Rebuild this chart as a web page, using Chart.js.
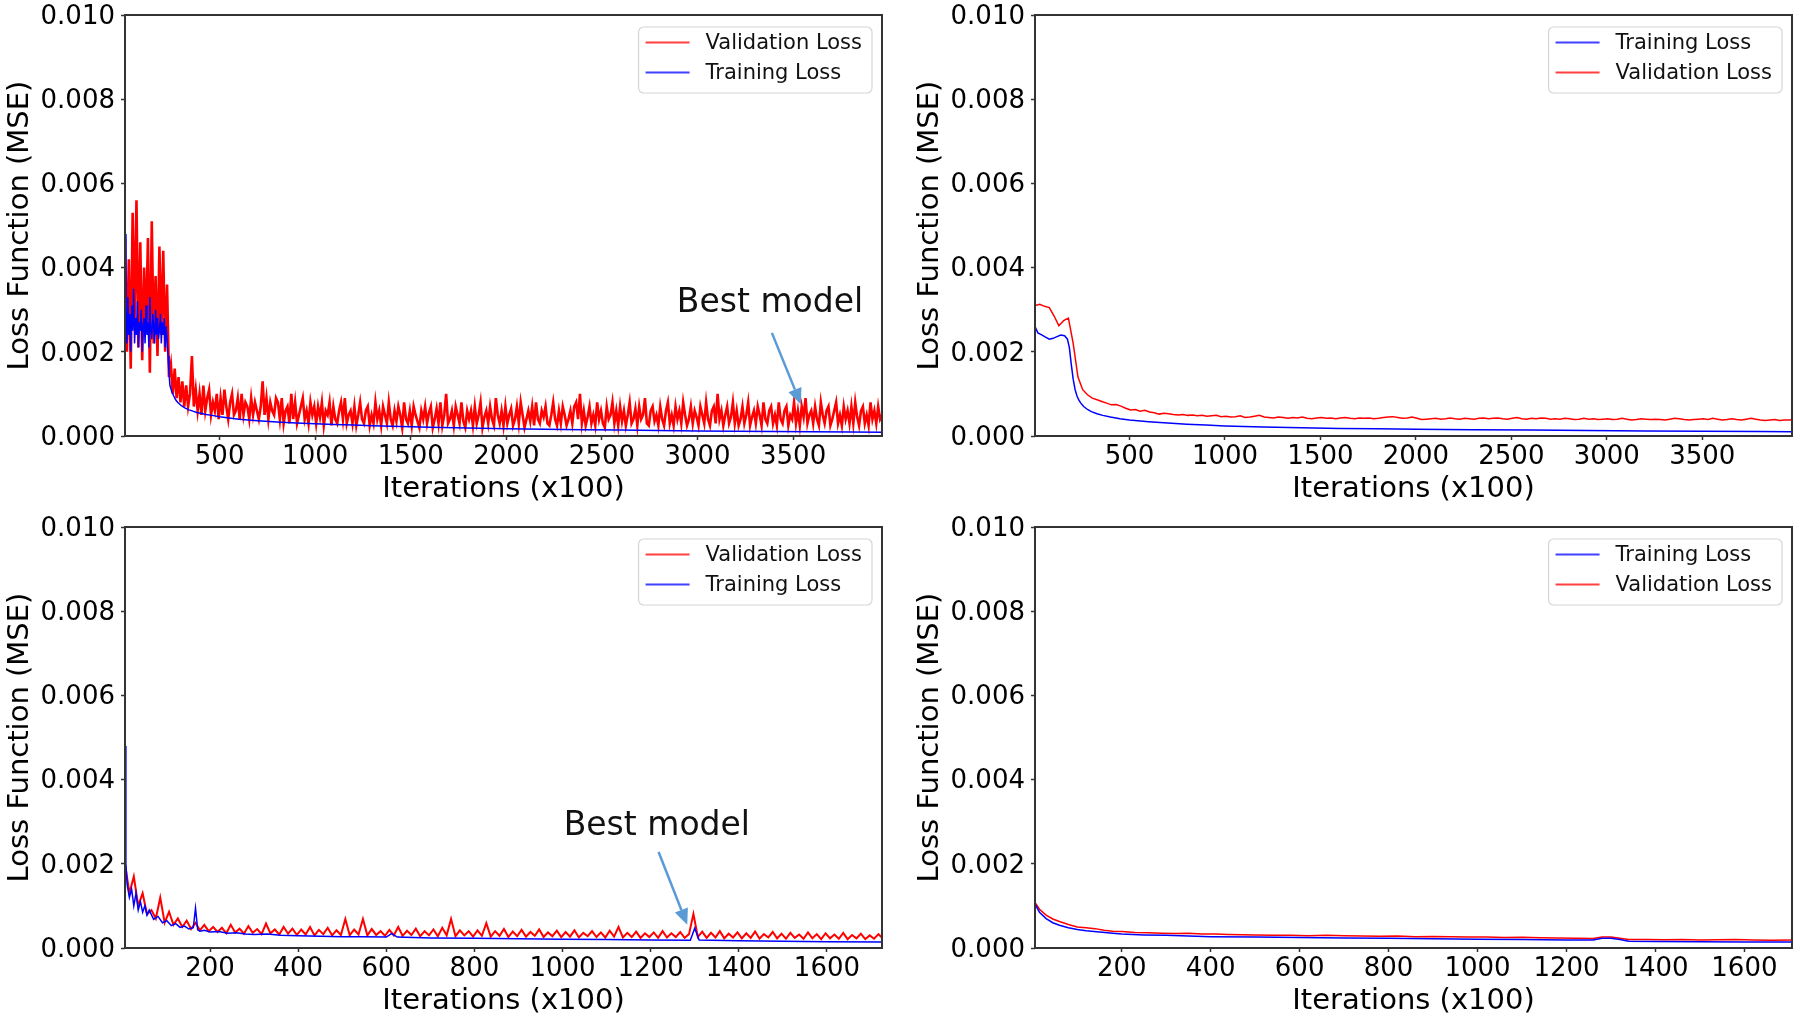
<!DOCTYPE html>
<html>
<head>
<meta charset="utf-8">
<script src="https://cdn.jsdelivr.net/npm/chart.js@4.4.1/dist/chart.umd.min.js"></script>
<style>
  html, body { margin: 0; padding: 0; background: #fff; overflow: hidden; width: 1800px; height: 1019px; }
  canvas { position: absolute; }
</style>
</head>
<body>
<canvas id="tl" width="900" height="510" style="left:0;top:0"></canvas>
<canvas id="tr" width="900" height="510" style="left:900px;top:0"></canvas>
<canvas id="bl" width="900" height="510" style="left:0;top:512px"></canvas>
<canvas id="br" width="900" height="510" style="left:900px;top:512px"></canvas>
<script>
// all loss values are MSE x 1e-4 (so 100 = 0.010)
const yTicks = [0, 20, 40, 60, 80, 100];
const yTickLabels = ['0.000', '0.002', '0.004', '0.006', '0.008', '0.010'];
const xTicksLong = [500, 1000, 1500, 2000, 2500, 3000, 3500];
const xTicksShort = [200, 400, 600, 800, 1000, 1200, 1400, 1600];

// top left: validation every 10 iterations starting at 5
const tlValStart = 5, tlValStep = 10;
const tlValidation = [
  47,20,42,16,53,27,56,21,46,18,40,25,47,15,51,22,38,19,45,24,
  44,20,36,14,17,10,16,9,14,8,13,7,12,7,10,19,7,11,6,10,
  5,12,6,9,11,5,8,6,10,4,9,5,11,7,4,8,10,5,6,9,
  4,10,5,8,7,4,9,5,8,6,4,7,13,5,9,4,8,6,5,9,
  8,4,9,3,6,7,3,10,4,8,3,5,7,9,4,6,3,8,5,7,
  3,7,4.5,8,2.5,6,5,8,2.5,7,4,3,6,8,4,9,3,5,6,3,
  7,2.5,5,8,4,3,6,7,2.5,5,3,8,4,6,2.5,7,5,3,8,4,
  2.5,6,3.5,7,5,2,8,4,3,6,2.5,7,5,3.5,2,6,4,7,3,5.5,
  7,2,4,6.5,3,8,2.5,5,10,3,4,6,2.5,7,5,3,8,3.5,2,6,
  4,6,2.5,7,3,5,8,2,4.5,6,3,7,4,2.5,9,5,3,6,2.5,7,
  3,5,6.5,2.5,4,7,3,8,5,2,4,6,3.5,7,2.5,8,4,3,6,4.5,
  7,3,2.5,5,8,4,2.5,6,3,7,5,2.5,4,6,3,7,8,4,10,3,
  6,2.5,4.5,7,3,5,2.5,8,4,6,3,2,7,4,5,8,3,6,2.5,7,
  3.5,6,2.5,5,8,3,4,6.5,2.5,7,4,5,9,3,2.5,6,7,3.5,5,2.5,
  7,4,2.5,6,8,3,5,2.5,7,4,6,3,8,5,2.5,4,7,3,6,4.5,
  2.5,7,5,3,8,4,2.5,6,7,3,10,4,6,2.5,5,7,3,4.5,8,3,
  6,2.5,4,7,3,5,8,2.5,4.5,6,3,7,5,2.5,8,4,3,6,7,3,
  5,2.5,8,4,3,6,7,2.5,5,4,8,3,6,2.5,7,4.5,9,3,5,6,
  3,7,4,2.5,8,5,3,6,7,2.5,4,6,8,3,5,2.5,7,4,6,3,
  7,3,8,4.5,2.5,6,7,3,5,2.5,8,4,6,3,7,4,5,2.5,7,4
];
const tlTrainX = [
  5,10,15,20,25,30,35,40,45,50,55,60,65,70,75,80,85,90,95,100,
  105,110,115,120,125,130,135,140,145,150,155,160,165,170,175,180,185,190,195,200,
  205,210,215,220,225,230,235,240,
  250,260,270,280,290,300,320,340,360,380,400,430,460,500,550,600,650,700,800,900,
  1000,1100,1200,1300,1400,1500,1600,1800,2000,2200,2400,2600,2800,3000,3200,3400,3600,3800,3965
];
const tlTraining = [
  48,30,22,33,24,29,20,31,25,35,22,28,24,32,21,27,25,30,20,26,
  28,22,31,24,27,21,33,25,23,29,26,22,30,24,28,23,25,29,22,27,
  24,28,21,26,23,19,15,12,
  10.5,9.5,8.6,8.0,7.6,7.2,6.6,6.2,5.9,5.6,5.4,5.1,4.9,4.6,4.3,4.0,3.8,3.6,3.3,3.1,
  2.9,2.75,2.6,2.45,2.3,2.2,2.1,1.9,1.75,1.6,1.5,1.4,1.3,1.2,1.15,1.05,1.0,0.95,0.9
];

// top right
const trTrainX = [5,20,40,60,80,100,120,140,160,175,185,195,205,215,225,235,245,260,280,300,
  330,360,400,450,500,600,700,800,900,1000,1200,1400,1600,1800,2000,2300,2600,2900,3200,3500,3800,3970];
const trTraining = [26,24.5,24,23.5,23,23.2,23.6,24,23.8,23,21,17,13.5,11,9.5,8.5,7.8,7,6.3,5.8,
  5.3,4.9,4.5,4.1,3.8,3.4,3.1,2.8,2.6,2.4,2.15,1.95,1.8,1.7,1.6,1.5,1.4,1.3,1.2,1.1,1.05,1.0];
const trValStart = 5, trValStep = 25;
const trValidation = [
  31,31.3,30.8,30.5,28.5,26.2,27.4,28,22,14,
  11,9.8,9.0,8.6,8.2,7.8,7.4,7.5,7.1,6.6,
  6.2,6.3,5.9,6.1,5.7,5.5,5.2,5.4,5.3,5.1,
  5.0,5.1,4.9,5.0,4.8,4.9,4.7,4.8,4.9,4.6,
  4.7,4.5,4.6,4.8,4.4,4.5,4.7,4.9,4.5,4.4,
  4.3,4.5,4.4,4.2,4.4,4.3,4.5,4.2,4.1,4.3,
  4.4,4.2,4.3,4.1,4.3,4.4,4.2,4.1,4.3,4.2,
  4.3,4.1,4.2,4.4,4.5,4.6,4.4,4.2,4.3,4.5,
  4.2,3.9,4.0,4.1,4.2,4.0,4.1,4.3,4.1,4.0,
  4.2,4.1,4.0,4.2,4.3,4.1,4.2,4.3,4.1,4.0,
  4.2,4.4,4.1,4.0,4.2,4.1,4.3,4.2,4.0,4.1,
  4.0,4.2,4.1,3.9,4.0,4.2,4.0,4.1,3.9,4.0,
  4.1,3.9,4.0,4.2,4.0,3.8,3.9,4.1,4.0,3.9,
  4.0,3.9,3.8,4.0,4.2,4.1,3.9,3.8,3.9,4.0,
  4.1,3.9,4.2,4.0,3.8,3.9,4.1,3.9,3.8,4.0,
  4.2,4.0,3.8,3.7,3.8,3.9,3.7,3.8,3.8,3.9
];

// bottom left
const blValStart = 7, blValStep = 10;
const blValidation = [
  20,13,17,10,13,8,9,7,12,6,8.6,5.5,7,5,6.5,4.5,6,4.2,5.5,4,
  5,3.8,4.8,3.5,5.5,3.7,4.6,3.4,5.2,3.6,4.5,3.3,5.8,3.5,4.4,3.2,5.0,3.4,4.6,3.1,
  4.4,3.2,5.0,3.0,4.3,3.3,4.8,3.0,4.2,3.1,6.9,3.0,4.4,3.2,6.9,3.0,4.5,3.1,4.0,2.9,
  4.3,3.0,5.0,2.9,4.1,3.1,4.6,2.8,4.0,3.0,4.4,2.8,4.8,3.0,6.9,2.8,4.2,3.0,4.0,2.7,
  4.2,2.9,5.9,2.7,4.0,2.9,4.5,2.6,3.9,2.8,4.3,2.7,3.8,2.9,4.4,2.6,3.7,2.8,4.1,2.6,
  3.8,2.7,4.2,2.5,3.6,2.8,4.0,2.6,3.7,2.5,4.1,2.7,5.0,2.5,3.6,2.6,3.9,2.4,3.5,2.6,
  3.7,2.4,4.0,2.5,3.5,2.6,3.8,2.4,3.3,8.1,2.6,3.9,2.4,3.6,2.5,4.0,2.3,3.4,2.5,3.7,
  2.3,3.5,2.4,3.9,2.2,3.3,2.5,3.8,2.3,3.4,2.2,3.6,2.4,3.2,2.2,3.7,2.3,3.3,2.1,3.5,
  2.3,3.2,2.2,3.6,2.1,3.1,2.3,3.4,2.1,3.0,2.2,3.3,2.2
];
const blTrainX = [7,9,12,17,22,27,32,37,42,47,52,57,62,72,82,92,102,112,122,132,
  142,152,162,167,172,177,187,200,220,240,260,280,300,330,360,400,450,500,550,600,
  612,625,700,800,900,1000,1100,1200,1290,1300,1310,1400,1500,1600,1727];
const blTraining = [48,20,15,12,14,10,13,9,11,8.5,10,7.8,9,6.8,7.5,6,6.5,5.3,5.8,4.9,
  5.2,4.5,4.8,9.5,4.3,4.0,4.2,3.8,3.9,3.5,3.6,3.3,3.2,3.3,3.0,2.9,2.8,2.7,2.65,2.6,
  3.4,2.6,2.4,2.3,2.2,2.1,2.0,1.9,1.85,4.7,1.9,1.7,1.6,1.5,1.4];

// bottom right
const brTrainX = [5,15,30,45,60,80,100,120,150,180,200,250,300,350,400,500,600,700,800,900,
  1000,1100,1200,1260,1280,1300,1320,1340,1400,1500,1600,1707];
const brTraining = [10.5,8.5,7.0,6.0,5.4,4.8,4.4,4.1,3.8,3.5,3.3,3.1,3.0,2.85,2.7,2.6,2.5,2.4,2.3,2.2,
  2.1,2.0,1.9,1.9,2.3,2.3,2.0,1.6,1.55,1.5,1.45,1.4];
const brValX = [5,15,30,45,60,80,100,120,140,160,180,200,230,260,290,320,350,380,410,440,
  470,500,540,580,620,660,700,740,780,820,860,900,940,980,1020,1060,1100,1140,1180,1220,
  1260,1280,1300,1320,1340,1380,1420,1460,1500,1540,1580,1620,1660,1707];
const brValidation = [10.8,9.2,7.8,6.9,6.3,5.6,5.0,4.8,4.6,4.2,4.0,3.9,3.7,3.6,3.5,3.45,3.5,3.3,3.3,3.2,
  3.15,3.1,3.0,3.05,2.9,3.0,2.9,2.85,2.8,2.85,2.7,2.75,2.65,2.6,2.6,2.5,2.55,2.45,2.4,2.3,
  2.25,2.6,2.6,2.3,2.0,2.0,1.95,2.0,1.9,1.95,2.0,1.9,1.85,1.9];

const RED = '#ff0000';
const BLUE = '#0000ff';
const FONT = "'DejaVu Sans', sans-serif";

Chart.defaults.font.family = FONT;
Chart.defaults.color = '#000';

function pairs(xs, ys) {
  return ys.map((y, i) => ({ x: xs[i], y: y }));
}
function stepped(start, step, ys) {
  return ys.map((y, i) => ({ x: start + step * i, y: y }));
}

const framePlugin = {
  id: 'frame',
  afterDatasetsDraw(chart) {
    const a = chart.chartArea, ctx = chart.ctx;
    ctx.save();
    ctx.strokeStyle = '#333';
    ctx.lineWidth = 2;
    ctx.strokeRect(a.left, a.top, a.right - a.left, a.bottom - a.top);
    ctx.restore();
  }
};

const boxLegendPlugin = {
  id: 'boxLegend',
  afterDraw(chart, args, opts) {
    const ctx = chart.ctx, a = chart.chartArea;
    const items = opts.order.map(lbl => chart.data.datasets.find(d => d.label === lbl));
    ctx.save();
    ctx.font = '21px ' + FONT;
    const tw = Math.max(...items.map(d => ctx.measureText(d.label).width));
    const w = 67 + tw + 10, h = 66;
    const x0 = a.right - 10 - w, y0 = a.top + 12;
    ctx.beginPath();
    ctx.roundRect(x0, y0, w, h, 5);
    ctx.fillStyle = 'rgba(255,255,255,0.85)';
    ctx.fill();
    ctx.strokeStyle = '#d6d6d6';
    ctx.lineWidth = 1.2;
    ctx.stroke();
    items.forEach((d, i) => {
      const yy = y0 + 15.5 + i * 30;
      ctx.strokeStyle = d.borderColor;
      ctx.globalAlpha = 0.75;
      ctx.lineWidth = 2;
      ctx.beginPath();
      ctx.moveTo(x0 + 7, yy);
      ctx.lineTo(x0 + 51, yy);
      ctx.stroke();
      ctx.globalAlpha = 1;
      ctx.fillStyle = '#111';
      ctx.textBaseline = 'middle';
      ctx.textAlign = 'left';
      ctx.fillText(d.label, x0 + 67, yy + 1);
    });
    ctx.restore();
  }
};

const bestModelPlugin = {
  id: 'bestModel',
  afterDatasetsDraw(chart, args, opts) {
    if (!opts || opts.textX === undefined) return;
    const ctx = chart.ctx, xs = chart.scales.x, ys = chart.scales.y;
    const tx = xs.getPixelForValue(opts.textX), ty = ys.getPixelForValue(opts.textY);
    const sx = xs.getPixelForValue(opts.fromX), sy = ys.getPixelForValue(opts.fromY);
    const hx = xs.getPixelForValue(opts.toX), hy = ys.getPixelForValue(opts.toY);
    ctx.save();
    ctx.font = '33px ' + FONT;
    ctx.fillStyle = '#111';
    ctx.textAlign = 'center';
    ctx.textBaseline = 'middle';
    ctx.fillText(opts.text, tx, ty);
    const ang = Math.atan2(hy - sy, hx - sx);
    const headLen = 16, headW = 7;
    const bx = hx - headLen * Math.cos(ang), by = hy - headLen * Math.sin(ang);
    ctx.strokeStyle = '#5b9bd5';
    ctx.fillStyle = '#5b9bd5';
    ctx.lineWidth = 2.5;
    ctx.beginPath();
    ctx.moveTo(sx, sy);
    ctx.lineTo(bx, by);
    ctx.stroke();
    ctx.beginPath();
    ctx.moveTo(hx, hy);
    ctx.lineTo(bx + headW * Math.sin(ang), by - headW * Math.cos(ang));
    ctx.lineTo(bx - headW * Math.sin(ang), by + headW * Math.cos(ang));
    ctx.closePath();
    ctx.fill();
    ctx.restore();
  }
};

function panel(id, o) {
  const tickGrid = { drawOnChartArea: false, drawTicks: true, tickLength: 4, tickWidth: 1.5, tickColor: '#333' };
  new Chart(document.getElementById(id), {
    type: 'line',
    data: { datasets: o.datasets },
    options: {
      responsive: false,
      animation: false,
      events: [],
      layout: { padding: { left: 0, right: o.padRight, top: 15, bottom: 0 } },
      elements: { point: { radius: 0 }, line: { borderWidth: 1.5, tension: 0 } },
      plugins: {
        legend: { display: false },
        tooltip: { enabled: false },
        boxLegend: { order: o.legendOrder },
        bestModel: o.best || false
      },
      scales: {
        x: {
          type: 'linear',
          min: o.xMin,
          max: o.xMax,
          afterBuildTicks: s => { s.ticks = o.xTicks.map(v => ({ value: v })); },
          afterFit: s => { s.height = 74; s.paddingLeft = 0; s.paddingRight = 0; },
          ticks: { font: { size: 26, lineHeight: 1 }, color: '#000', padding: 4, maxRotation: 0, autoSkip: false, callback: v => String(v) },
          grid: tickGrid,
          border: { display: false },
          title: { display: true, text: 'Iterations (x100)', font: { size: 29 }, color: '#000', padding: { top: 0, bottom: 3 } }
        },
        y: {
          type: 'linear',
          min: 0,
          max: 100,
          afterBuildTicks: s => { s.ticks = yTicks.map(v => ({ value: v })); },
          // keep the plot box fixed: no extra room for the end labels
          afterFit: s => { s.width = o.yWidth; s.paddingTop = 0; s.paddingBottom = 0; },
          ticks: { font: { size: 26, lineHeight: 1 }, color: '#000', padding: 6, labelOffset: 2, callback: v => yTickLabels[yTicks.indexOf(v)] },
          grid: tickGrid,
          border: { display: false },
          title: { display: true, text: 'Loss Function (MSE)', font: { size: 29 }, color: '#000', padding: { top: o.yTitlePad, bottom: 0 } }
        }
      }
    },
    plugins: [framePlugin, boxLegendPlugin, bestModelPlugin]
  });
}

panel('tl', {
  xMin: 5, xMax: 3965, xTicks: xTicksLong, yWidth: 125, padRight: 18, yTitlePad: 2.6,
  legendOrder: ['Validation Loss', 'Training Loss'],
  best: { text: 'Best model', textX: 3379, textY: 31.4, fromX: 3389, fromY: 24.5, toX: 3541, toY: 7.5 },
  datasets: [
    { label: 'Training Loss', data: pairs(tlTrainX, tlTraining), borderColor: BLUE },
    { label: 'Validation Loss', data: stepped(tlValStart, tlValStep, tlValidation), borderColor: RED, borderWidth: 2.6 }
  ]
});

panel('tr', {
  xMin: 5, xMax: 3970, xTicks: xTicksLong, yWidth: 135, padRight: 8, yTitlePad: 13,
  legendOrder: ['Training Loss', 'Validation Loss'],
  datasets: [
    { label: 'Training Loss', data: pairs(trTrainX, trTraining), borderColor: BLUE },
    { label: 'Validation Loss', data: stepped(trValStart, trValStep, trValidation), borderColor: RED }
  ]
});

panel('bl', {
  xMin: 7, xMax: 1725, xTicks: xTicksShort, yWidth: 125, padRight: 18, yTitlePad: 2.6,
  legendOrder: ['Validation Loss', 'Training Loss'],
  best: { text: 'Best model', textX: 1214, textY: 28.8, fromX: 1218, fromY: 22.8, toX: 1283, toY: 5.5 },
  datasets: [
    { label: 'Training Loss', data: pairs(blTrainX, blTraining), borderColor: BLUE },
    { label: 'Validation Loss', data: stepped(blValStart, blValStep, blValidation), borderColor: RED, borderWidth: 2 }
  ]
});

panel('br', {
  xMin: 5, xMax: 1707, xTicks: xTicksShort, yWidth: 135, padRight: 8, yTitlePad: 13,
  legendOrder: ['Training Loss', 'Validation Loss'],
  datasets: [
    { label: 'Training Loss', data: pairs(brTrainX, brTraining), borderColor: BLUE },
    { label: 'Validation Loss', data: pairs(brValX, brValidation), borderColor: RED }
  ]
});
</script>
</body>
</html>
